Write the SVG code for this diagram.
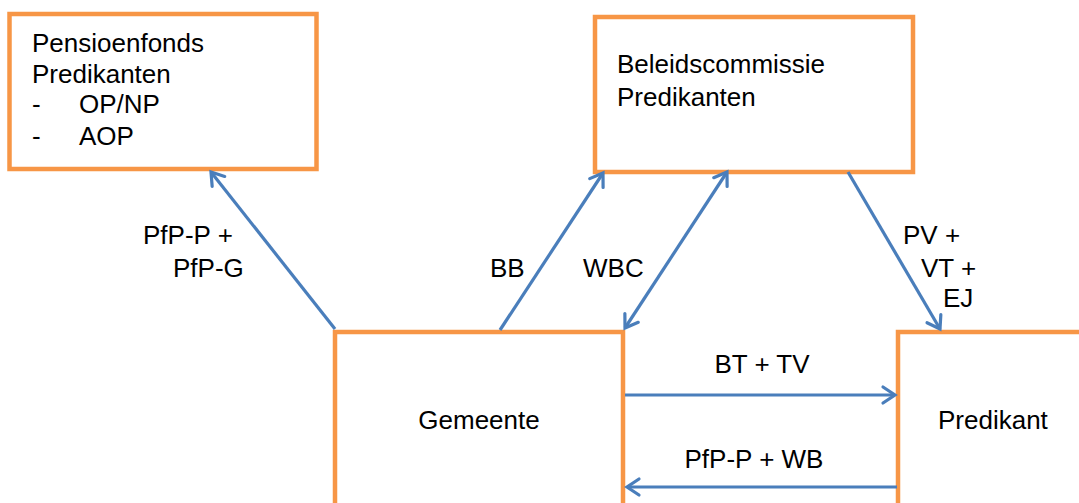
<svg xmlns="http://www.w3.org/2000/svg" width="1079" height="503" viewBox="0 0 1079 503">
<style>
.box{fill:#fff;stroke:#F79646;stroke-width:4.5}
.t{font-family:"Liberation Sans",Arial,sans-serif;font-size:26px;fill:#000}
.c{stroke:#4A7EBB;stroke-width:3.2;fill:none}
</style>
<defs>
<marker id="ah" markerUnits="userSpaceOnUse" markerWidth="30" markerHeight="30" viewBox="-15 -15 30 30" refX="0" refY="0" orient="auto-start-reverse" overflow="visible">
<path d="M-12,-8 L0,0 L-12,8" fill="none" stroke="#4A7EBB" stroke-width="3.2" stroke-linecap="round" stroke-linejoin="miter"/>
</marker>
</defs>
<g id="pensioenfonds">
<rect class="box" x="9.5" y="14" width="307" height="155"/>
<text class="t" x="32" y="52">Pensioenfonds</text>
<text class="t" x="32" y="83">Predikanten</text>
<text class="t" x="32" y="113">-</text>
<text class="t" x="79" y="113">OP/NP</text>
<text class="t" x="32" y="145">-</text>
<text class="t" x="79" y="145">AOP</text>
</g>
<g id="beleidscommissie">
<rect class="box" x="595" y="17" width="318" height="155"/>
<text class="t" x="617" y="73">Beleidscommissie</text>
<text class="t" x="617" y="106">Predikanten</text>
</g>
<g id="gemeente">
<rect class="box" x="335" y="332" width="288" height="200"/>
<text class="t" x="479" y="429" text-anchor="middle">Gemeente</text>
</g>
<g id="predikant">
<rect class="box" x="898" y="332" width="220" height="200"/>
<text class="t" x="938" y="429">Predikant</text>
</g>
<g id="connectors">
<line class="c" x1="335" y1="329" x2="211" y2="172" marker-end="url(#ah)"/>
<line class="c" x1="500" y1="330" x2="603" y2="173" marker-end="url(#ah)"/>
<line class="c" x1="625" y1="328" x2="727" y2="172" marker-start="url(#ah)" marker-end="url(#ah)"/>
<line class="c" x1="848" y1="172" x2="940" y2="329" marker-end="url(#ah)"/>
<line class="c" x1="625" y1="395" x2="895" y2="395" marker-end="url(#ah)"/>
<line class="c" x1="897" y1="487" x2="627" y2="487" marker-end="url(#ah)"/>
<text class="t" x="143" y="244">PfP-P +</text>
<text class="t" x="173" y="277">PfP-G</text>
<text class="t" x="490" y="277">BB</text>
<text class="t" x="583" y="277">WBC</text>
<text class="t" x="903" y="244">PV +</text>
<text class="t" x="921" y="277">VT +</text>
<text class="t" x="943" y="307">EJ</text>
<text class="t" x="762" y="373" text-anchor="middle">BT + TV</text>
<text class="t" x="754" y="468" text-anchor="middle">PfP-P + WB</text>
</g>
</svg>
